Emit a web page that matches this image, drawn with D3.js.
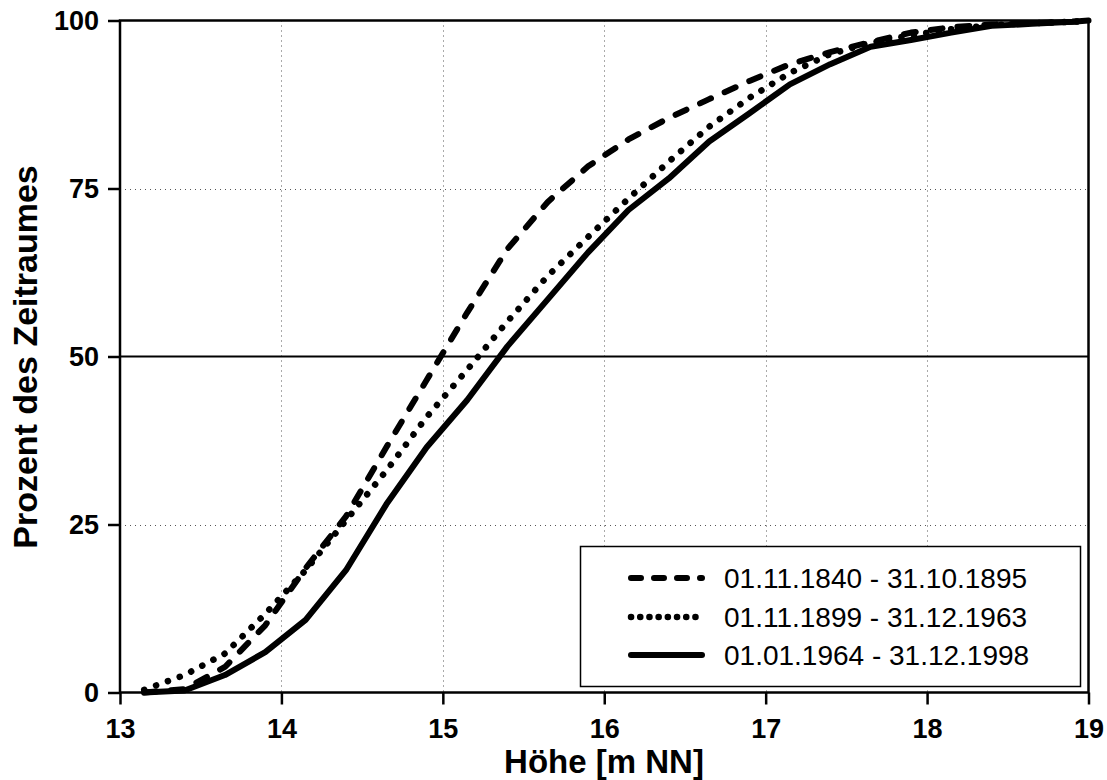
<!DOCTYPE html>
<html>
<head>
<meta charset="utf-8">
<script src="https://cdn.jsdelivr.net/npm/d3@7"></script>
<style>
  body { margin: 0; background: #fff; }
  svg { display: block; font-family: "Liberation Sans", Arial, sans-serif; }
</style>
</head>
<body>
<svg id="chart" width="1107" height="780"></svg>
<script>
// heights [m NN] shared by all three series
const heights = [13.15, 13.4, 13.65, 13.9, 14.15, 14.4, 14.65, 14.9, 15.15, 15.4, 15.65, 15.9,
    16.15, 16.4, 16.65, 16.9, 17.15, 17.4, 17.65, 17.9, 18.15, 18.4, 18.65, 18.9, 19.0];

// percent of period (cumulative)
const period1840 = [0, 0.5, 3.8, 10, 18.5, 26.2, 36.5, 46.5, 56.5, 66, 73, 78.3,
    82.3, 85.5, 88.3, 91, 93.5, 95.3, 96.8, 98.2, 99, 99.4, 99.6, 99.8, 100];
const period1899 = [0.4, 2.6, 5.8, 11.7, 18.2, 25.6, 33, 41, 48, 55.2, 62, 67.8,
    73.5, 79, 84.2, 88.5, 92.2, 95, 96.7, 97.8, 98.7, 99.3, 99.6, 99.8, 100];
const period1964 = [0, 0.3, 2.6, 6.0, 10.8, 18.2, 28, 36.5, 43.5, 51.5, 58.5, 65.5,
    71.8, 76.5, 82, 86.2, 90.5, 93.5, 96.1, 97.1, 98.2, 99.2, 99.5, 99.8, 100];

const seriesNames = ["01.11.1840 - 31.10.1895", "01.11.1899 - 31.12.1963", "01.01.1964 - 31.12.1998"];
const xTicks = [13, 14, 15, 16, 17, 18, 19];
const yTicks = [0, 25, 50, 75, 100];

const series = [
    { name: seriesNames[0], values: period1840, dash: "12,15", legendDash: "10,13", width: 6 },
    { name: seriesNames[1], values: period1899, dash: "0.1,12.5", legendDash: "0.1,9.1", width: 6.5 },
    { name: seriesNames[2], values: period1964, dash: null, legendDash: null, width: 6 }
];

const svg = d3.select("#chart");
const plot = { left: 120, right: 1088.5, top: 20.5, bottom: 692.5 };

const x = d3.scaleLinear().domain([13, 19]).range([plot.left, plot.right]);
const y = d3.scaleLinear().domain([0, 100]).range([plot.bottom, plot.top]);

// grid
const grid = svg.append("g");
grid.selectAll("line.vx")
    .data(xTicks.filter((d) => d > 13 && d < 19))
    .enter()
    .append("line")
    .attr("x1", (d) => Math.round(x(d)) + 0.5)
    .attr("x2", (d) => Math.round(x(d)) + 0.5)
    .attr("y1", plot.top)
    .attr("y2", plot.bottom)
    .attr("stroke", "#555")
    .attr("stroke-width", 1)
    .attr("stroke-dasharray", "1,4");
grid.selectAll("line.hy")
    .data(yTicks.filter((d) => d === 25 || d === 75))
    .enter()
    .append("line")
    .attr("x1", plot.left)
    .attr("x2", plot.right)
    .attr("y1", (d) => Math.round(y(d)) + 0.5)
    .attr("y2", (d) => Math.round(y(d)) + 0.5)
    .attr("stroke", "#555")
    .attr("stroke-width", 1)
    .attr("stroke-dasharray", "1,4");
// solid 50% line
grid.append("line")
    .attr("x1", plot.left)
    .attr("x2", plot.right)
    .attr("y1", y(50))
    .attr("y2", y(50))
    .attr("stroke", "#000")
    .attr("stroke-width", 2);

// axes
const xAxis = svg.append("g")
    .attr("transform", `translate(0,${plot.bottom})`)
    .call(d3.axisBottom(x).tickValues(xTicks).tickSize(12).tickPadding(14).tickFormat(d3.format("d")));
const yAxis = svg.append("g")
    .attr("transform", `translate(${plot.left},0)`)
    .call(d3.axisLeft(y).tickValues(yTicks).tickSize(12).tickPadding(9).tickFormat(d3.format("d")));

[xAxis, yAxis].forEach((ax) => {
    ax.select(".domain").remove();
    ax.selectAll(".tick line").attr("stroke", "#000").attr("stroke-width", 2.5);
    ax.selectAll(".tick text")
        .attr("fill", "#000")
        .attr("font-size", 27)
        .attr("font-weight", "bold")
        .attr("font-family", "Liberation Sans, Arial, sans-serif");
});

// frame
svg.append("rect")
    .attr("x", plot.left)
    .attr("y", plot.top)
    .attr("width", plot.right - plot.left)
    .attr("height", plot.bottom - plot.top)
    .attr("fill", "none")
    .attr("stroke", "#000")
    .attr("stroke-width", 2.5);

// curves
svg.append("clipPath").attr("id", "plotClip")
    .append("rect")
    .attr("x", plot.left).attr("y", plot.top - 4)
    .attr("width", plot.right - plot.left + 4).attr("height", plot.bottom - plot.top + 8);

const line = d3.line()
    .x((d, i) => x(heights[i]))
    .y((d) => y(d));

svg.append("g")
    .attr("clip-path", "url(#plotClip)")
    .selectAll("path")
    .data(series)
    .enter()
    .append("path")
    .attr("d", (d) => line(d.values))
    .attr("fill", "none")
    .attr("stroke", "#000")
    .attr("stroke-width", (d) => d.width)
    .attr("stroke-linecap", "round")
    .attr("stroke-linejoin", "round")
    .attr("stroke-dasharray", (d) => d.dash);

// legend
const legend = svg.append("g");
legend.append("rect")
    .attr("x", 580.5)
    .attr("y", 546.5)
    .attr("width", 500)
    .attr("height", 140)
    .attr("fill", "#fff")
    .attr("stroke", "#000")
    .attr("stroke-width", 1.5);

const rowY = [578, 617, 655];
const rows = legend.selectAll("g.row")
    .data(series)
    .enter()
    .append("g")
    .attr("transform", (d, i) => `translate(0,${rowY[i]})`);
rows.append("line")
    .attr("x1", 631)
    .attr("x2", 702)
    .attr("stroke", "#000")
    .attr("stroke-width", (d) => d.width)
    .attr("stroke-linecap", "round")
    .attr("stroke-dasharray", (d) => d.legendDash);
rows.append("text")
    .attr("x", 724)
    .attr("y", 9.5)
    .attr("font-size", 28)
    .attr("fill", "#000")
    .text((d) => d.name);

// axis titles
svg.append("text")
    .attr("x", 604)
    .attr("y", 773)
    .attr("text-anchor", "middle")
    .attr("font-size", 33)
    .attr("font-weight", "bold")
    .text("Höhe [m NN]");
svg.append("text")
    .attr("transform", "translate(37,357) rotate(-90)")
    .attr("text-anchor", "middle")
    .attr("font-size", 34)
    .attr("font-weight", "bold")
    .text("Prozent des Zeitraumes");
</script>
</body>
</html>
